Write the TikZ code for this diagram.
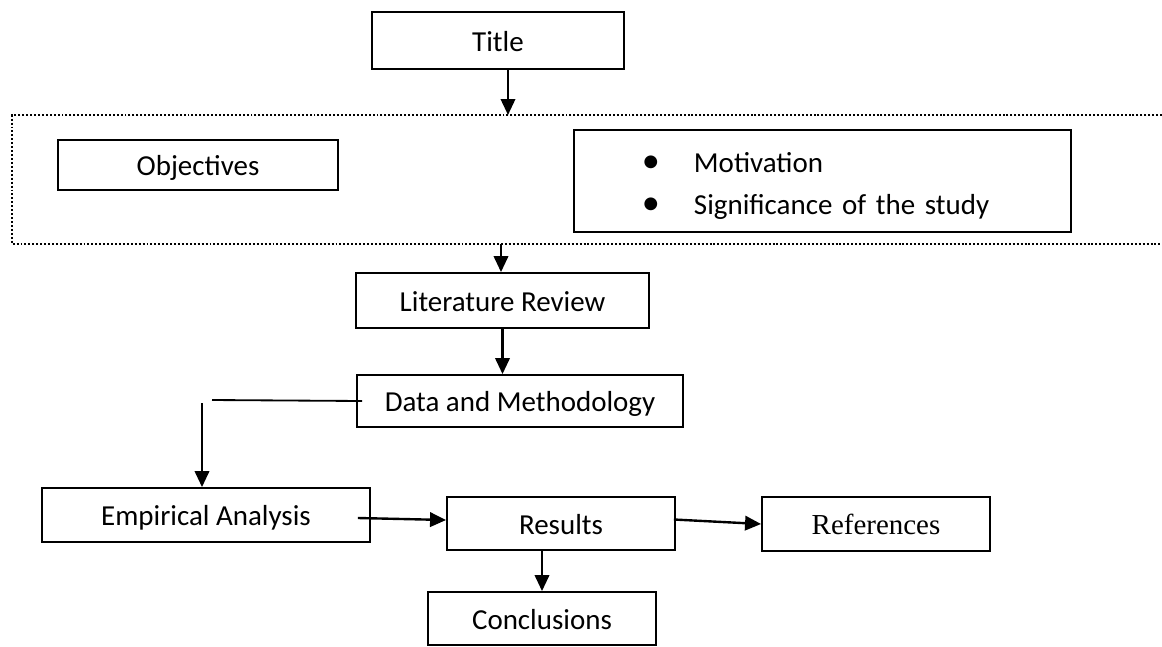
\documentclass[tikz,border=0pt]{standalone}
\usepackage{fontspec}
\setmainfont{Carlito}
\newfontfamily\timesfont{Liberation Serif}
\usetikzlibrary{arrows.meta,positioning}

\begin{document}
\begin{tikzpicture}[ x=0.025cm , y=-0.025cm ,
  box/.style={ draw , line width=1.3pt , inner sep=0pt , text height=15.6pt , text depth=0pt , font=\fontsize{20.6}{24}\selectfont },
  arr/.style={ -{Triangle[length=0.4cm,width=0.36cm]} , line width=1.7pt },
  frame/.style={ line width=1.4pt , dash pattern=on 1.4pt off 1.4pt } ]
\useasboundingbox (0,0) rectangle (1162,646);
\node [ box , minimum width=6.3cm , minimum height=1.425cm ] (title) at (498,40.5) {Title};
\draw [ frame ] (1162,115) -- (12,115) -- (12,244) -- (1162,244);
\node [ box , minimum width=7cm , minimum height=1.25cm ] (obj) at (198,165) {Objectives};
\node [ draw , line width=1.3pt , inner sep=0pt , font=\fontsize{20.6}{24}\selectfont ,
        text width=12.425cm , align=left , minimum height=2.55cm ] (motiv) at (822.5,181)
  {\hspace*{1.7cm}\makebox[1.3cm][l]{\scalebox{1.25}{\textbullet}}\rule{0pt}{1.06em}Motivation\\[0.2cm]
   \hspace*{1.7cm}\makebox[1.3cm][l]{\scalebox{1.25}{\textbullet}}Significance of the study};
\node [ box , minimum width=7.325cm , minimum height=1.375cm ] (lit) at (502.5,300.5) {Literature Review};
\node [ box , minimum width=8.15cm , minimum height=1.3cm ] (data) at (520,401) {Data and Methodology};
\node [ box , minimum width=8.2cm , minimum height=1.35cm ] (emp) at (206,515) {Empirical Analysis};
\node [ box , minimum width=5.7cm , minimum height=1.325cm ] (res) at (561,523.5) {Results};
\node [ box , minimum width=5.7cm , minimum height=1.35cm , font=\fontsize{20.6}{24}\timesfont ] (ref) at (876,524) {References};
\node [ box , minimum width=5.7cm , minimum height=1.325cm ] (conc) at (542,618.5) {Conclusions};
% connectors
\coordinate (topIn) at (508,115);
\coordinate (botOut) at (501,244);
\coordinate (turnA) at (212,400);
\coordinate (turnB) at (202,403);
\draw [ arr ] (title.south -| topIn) -- (topIn);
\draw [ arr ] (botOut) -- (botOut |- lit.north);
\draw [ arr ] (lit.south) -- (lit.south |- data.north);
\draw [ line width=1.3pt ] ([xshift=0.15cm]data.west) -- (turnA);
\draw [ arr ] (turnB) -- (turnB |- emp.north);
\draw [ arr ] ([xshift=-0.325cm,yshift=-0.075cm]emp.east) -- ([yshift=0.0875cm]res.west);
\draw [ arr ] ([xshift=-0.05cm,yshift=0.1cm]res.east) -- (ref.west);
\draw [ arr ] (res.south -| conc.north) -- (conc.north);
\end{tikzpicture}
\end{document}
